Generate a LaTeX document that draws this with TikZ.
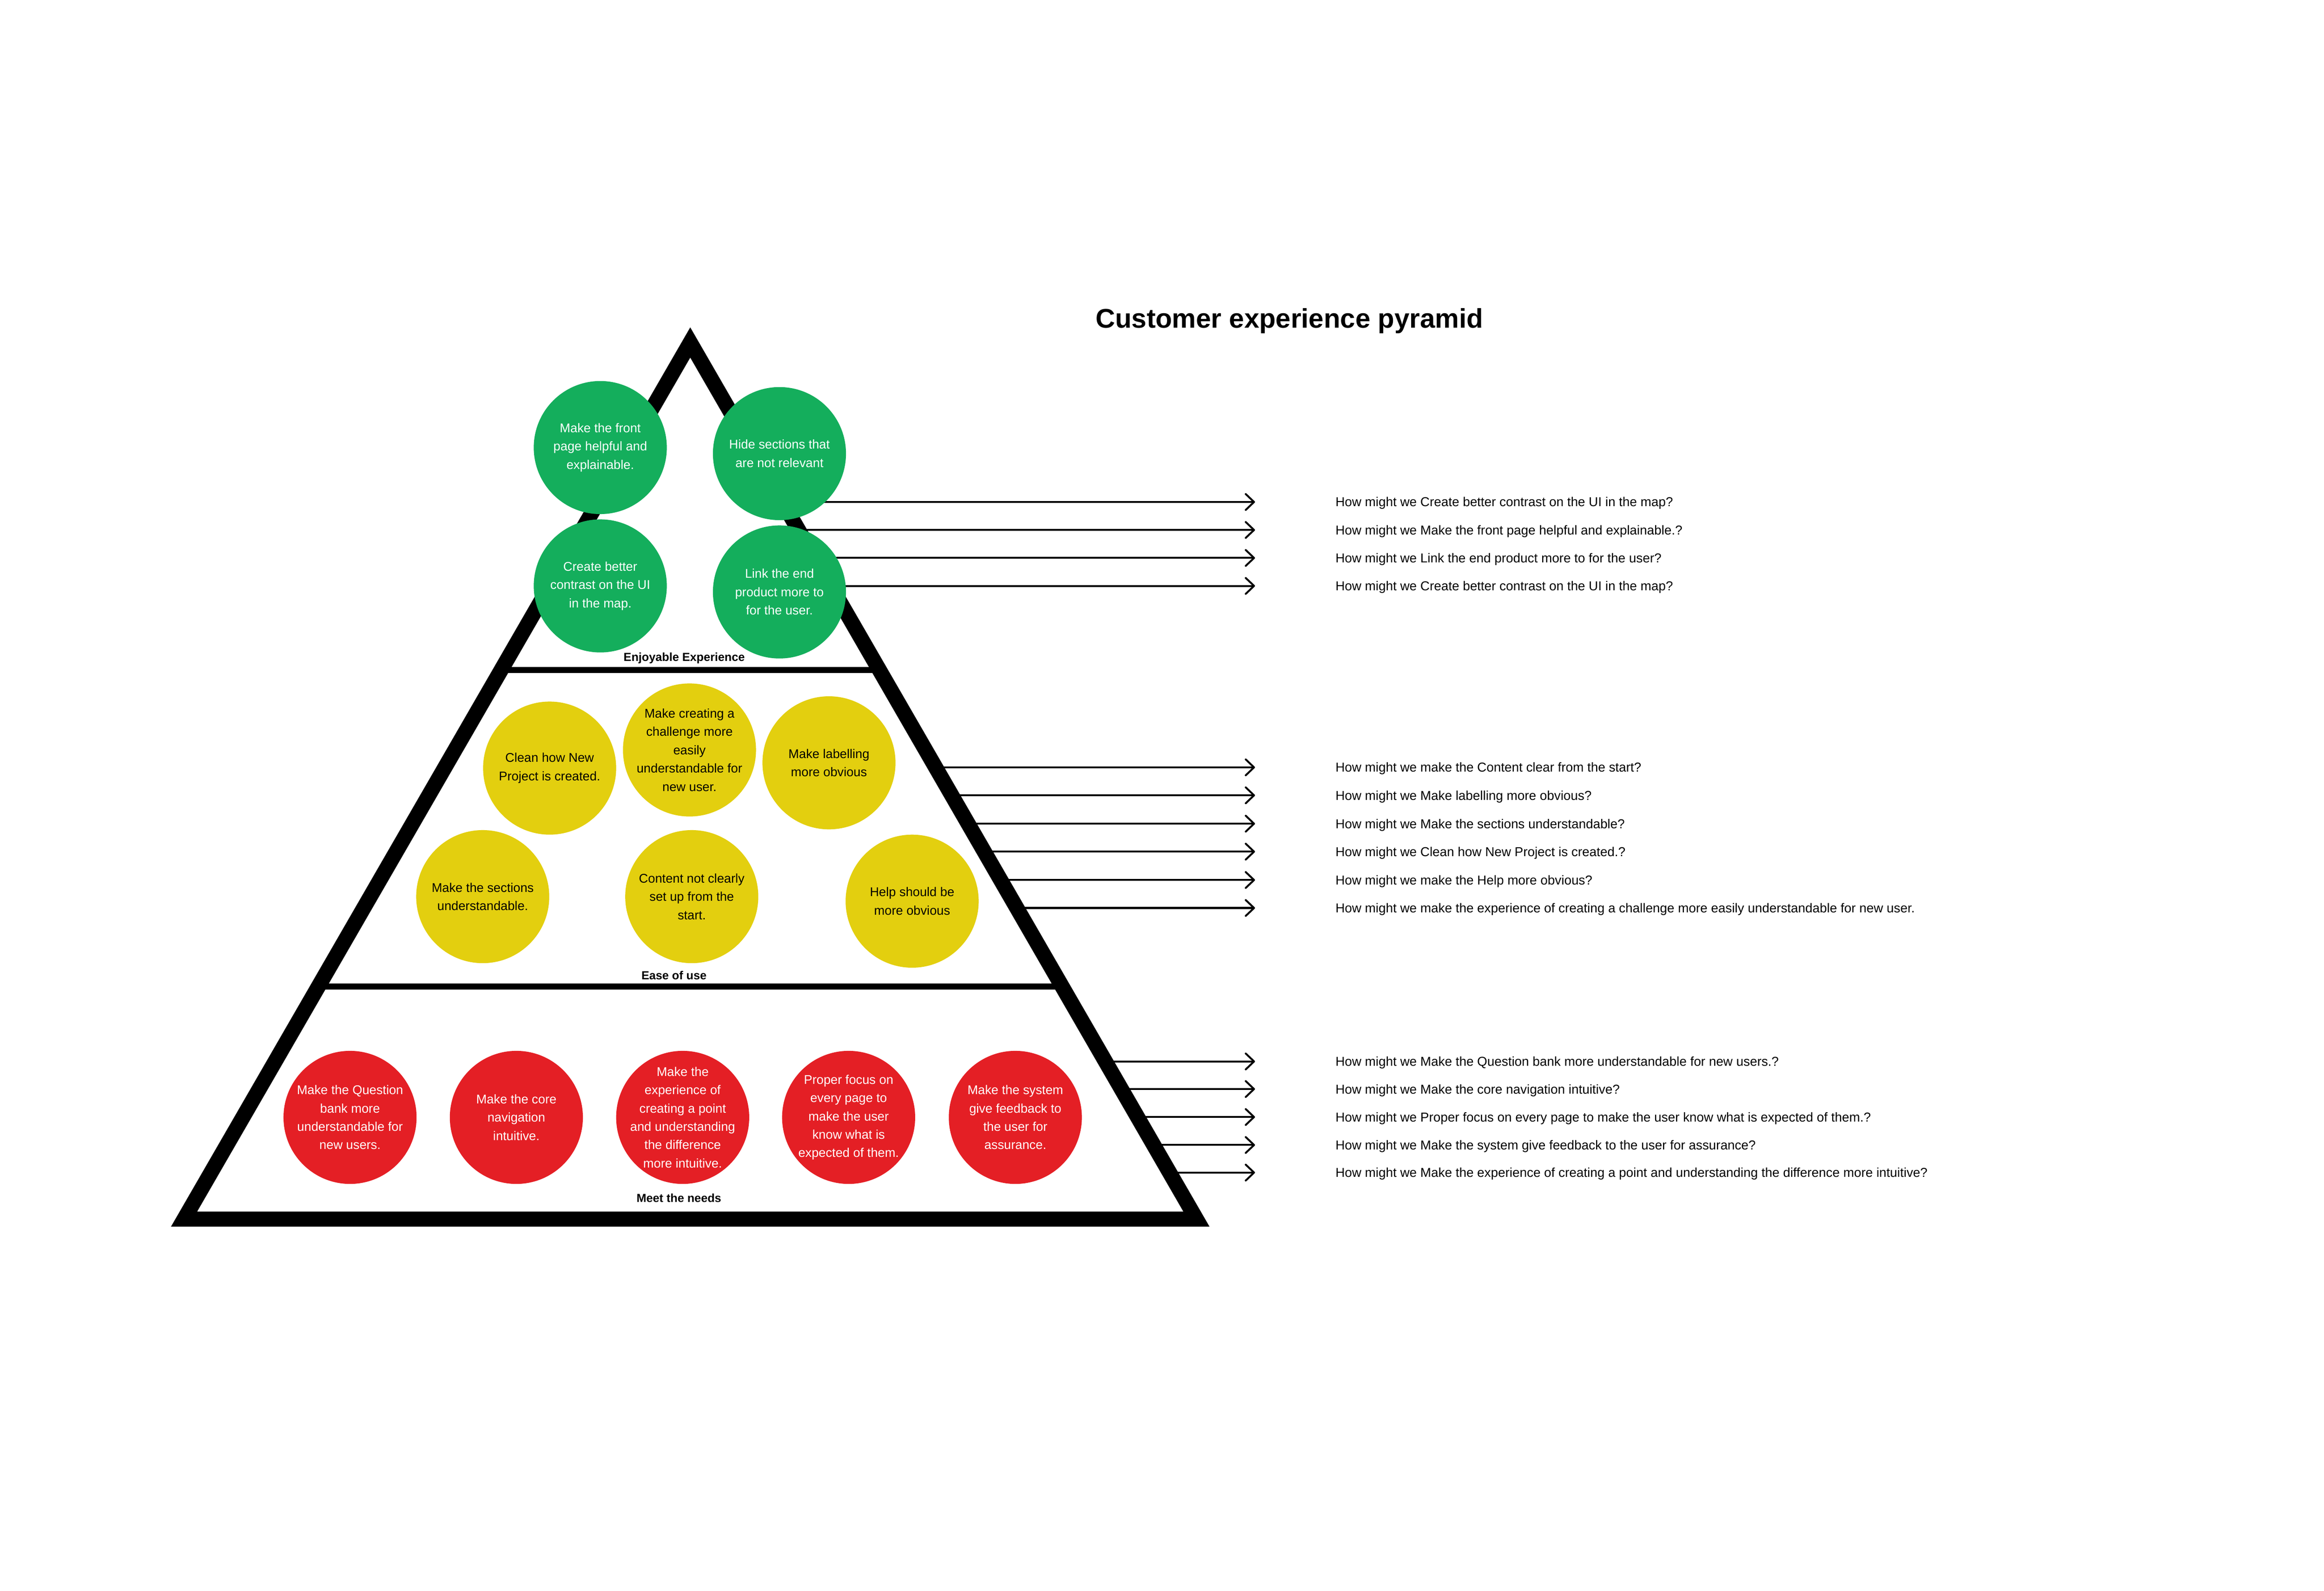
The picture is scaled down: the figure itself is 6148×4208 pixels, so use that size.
\documentclass[tikz,border=0pt]{standalone}
\usepackage{fontspec}
\setmainfont{Liberation Sans}
\usetikzlibrary{arrows.meta,calc}
\definecolor{ideagreen}{HTML}{14AE5C}
\definecolor{ideayellow}{HTML}{E3CF0F}
\definecolor{ideared}{HTML}{E41F25}
\tikzset{
  idea/.style={circle, inner sep=-6pt, minimum size=70.4pt, align=center,
    font=\fontsize{6.7pt}{9.7pt}\selectfont},
  green idea/.style={idea, fill=ideagreen, text=white},
  yellow idea/.style={idea, fill=ideayellow, text=black},
  red idea/.style={idea, fill=ideared, text=white},
  level/.style={inner sep=0pt, font=\fontsize{6.2pt}{7pt}\selectfont\bfseries},
  hmw/.style={anchor=west, inner sep=0pt, text height=4.9pt, text depth=0pt,
    font=\fontsize{6.85pt}{8pt}\selectfont},
  hmw arrow/.style={line width=1pt, shorten >=42.4pt,
    -{Straight Barb[length=4.4pt, width=8.4pt, round]}},
}
\begin{document}
\begin{tikzpicture}[x=0.2pt, y=-0.2pt]
      \useasboundingbox (0,0) rectangle (6148,4208);
      \fill[white] (0,0) rectangle (6148,4208);
      \node[anchor=base, font=\fontsize{14.3pt}{17pt}\selectfont\bfseries] (title)
        at (3411,868) {Customer experience pyramid};
      % how might we questions
      \node[hmw] (q1) at (3532,1328) {How might we Create better contrast on the UI in the map?};
      \node[hmw] (q2) at (3532,1402) {How might we Make the front page helpful and explainable.?};
      \node[hmw] (q3) at (3532,1476) {How might we Link the end product more to for the user?};
      \node[hmw] (q4) at (3532,1550) {How might we Create better contrast on the UI in the map?};
      \node[hmw] (q5) at (3532,2030) {How might we make the Content clear from the start?};
      \node[hmw] (q6) at (3532,2104) {How might we Make labelling more obvious?};
      \node[hmw] (q7) at (3532,2179) {How might we Make the sections understandable?};
      \node[hmw] (q8) at (3532,2253) {How might we Clean how New Project is created.?};
      \node[hmw] (q9) at (3532,2328) {How might we make the Help more obvious?};
      \node[hmw] (q10) at (3532,2402) {How might we make the experience of creating a challenge more easily understandable for new user.};
      \node[hmw] (q11) at (3532,2808) {How might we Make the Question bank more understandable for new users.?};
      \node[hmw] (q12) at (3532,2881) {How might we Make the core navigation intuitive?};
      \node[hmw] (q13) at (3532,2955) {How might we Proper focus on every page to make the user know what is expected of them.?};
      \node[hmw] (q14) at (3532,3029) {How might we Make the system give feedback to the user for assurance?};
      \node[hmw] (q15) at (3532,3102) {How might we Make the experience of creating a point and understanding the difference more intuitive?};
      % arrow starts, on the right side of the pyramid
      \coordinate (s1) at (2070,1328);
      \coordinate (s2) at (2112,1402);
      \coordinate (s3) at (2154,1476);
      \coordinate (s4) at (2198,1550);
      \coordinate (s5) at (2475,2030);
      \coordinate (s6) at (2518,2104);
      \coordinate (s7) at (2561,2179);
      \coordinate (s8) at (2604,2253);
      \coordinate (s9) at (2647,2328);
      \coordinate (s10) at (2690,2402);
      \coordinate (s11) at (2924,2808);
      \coordinate (s12) at (2966,2881);
      \coordinate (s13) at (3009,2955);
      \coordinate (s14) at (3052,3029);
      \coordinate (s15) at (3094,3102);
      \begin{scope}[hmw arrow]
        \draw (s1) -- (q1.west);
        \draw (s2) -- (q2.west);
        \draw (s3) -- (q3.west);
        \draw (s4) -- (q4.west);
        \draw (s5) -- (q5.west);
        \draw (s6) -- (q6.west);
        \draw (s7) -- (q7.west);
        \draw (s8) -- (q8.west);
        \draw (s9) -- (q9.west);
        \draw (s10) -- (q10.west);
        \draw (s11) -- (q11.west);
        \draw (s12) -- (q12.west);
        \draw (s13) -- (q13.west);
        \draw (s14) -- (q14.west);
        \draw (s15) -- (q15.west);
      \end{scope}
      % pyramid
      \coordinate (apex) at (1826,906);
      \coordinate (bl) at (487,3225);
      \coordinate (br) at (3165,3225);
      \draw[line width=8pt, line join=miter] (apex) -- (br) -- (bl) -- cycle;
      \draw[line width=3.2pt] ($(apex)!0.3734!(bl)$) -- ($(apex)!0.3734!(br)$);
      \draw[line width=3.2pt] ($(apex)!0.7348!(bl)$) -- ($(apex)!0.7348!(br)$);
      % enjoyable experience
      \node[green idea] (front) at (1588,1184) {Make the front\\page helpful and\\explainable.};
      \node[green idea] (hide) at (2062,1200) {Hide sections that\\are not relevant};
      \node[green idea] (contrast) at (1588,1550) {Create better\\contrast on the UI\\in the map.};
      \node[green idea] (link) at (2062,1566) {Link the end\\product more to\\for the user.};
      \node[level] (enjoy) at (1810,1741) {Enjoyable Experience};
      % ease of use
      \node[yellow idea] (clean) at (1454,2032) {Clean how New\\Project is created.};
      \node[yellow idea] (challenge) at (1824,1984) {Make creating a\\challenge more\\easily\\understandable for\\new user.};
      \node[yellow idea] (labelling) at (2193,2018) {Make labelling\\more obvious};
      \node[yellow idea] (sections) at (1277,2372) {Make the sections\\understandable.};
      \node[yellow idea] (content) at (1830,2372) {Content not clearly\\set up from the\\start.};
      \node[yellow idea] (help) at (2413,2384) {Help should be\\more obvious};
      \node[level] (ease) at (1783,2580) {Ease of use};
      % meet the needs
      \node[red idea] (question) at (926,2956) {Make the Question\\bank more\\understandable for\\new users.};
      \node[red idea] (navigation) at (1366,2956) {Make the core\\navigation\\intuitive.};
      \node[red idea] (point) at (1806,2956) {Make the\\experience of\\creating a point\\and understanding\\the difference\\more intuitive.};
      \node[red idea] (focus) at (2245,2956) {Proper focus on\\every page to\\make the user\\know what is\\expected of them.};
      \node[red idea] (feedback) at (2686,2956) {Make the system\\give feedback to\\the user for\\assurance.};
      \node[level] (needs) at (1796,3169) {Meet the needs};
    \end{tikzpicture}
\end{document}
